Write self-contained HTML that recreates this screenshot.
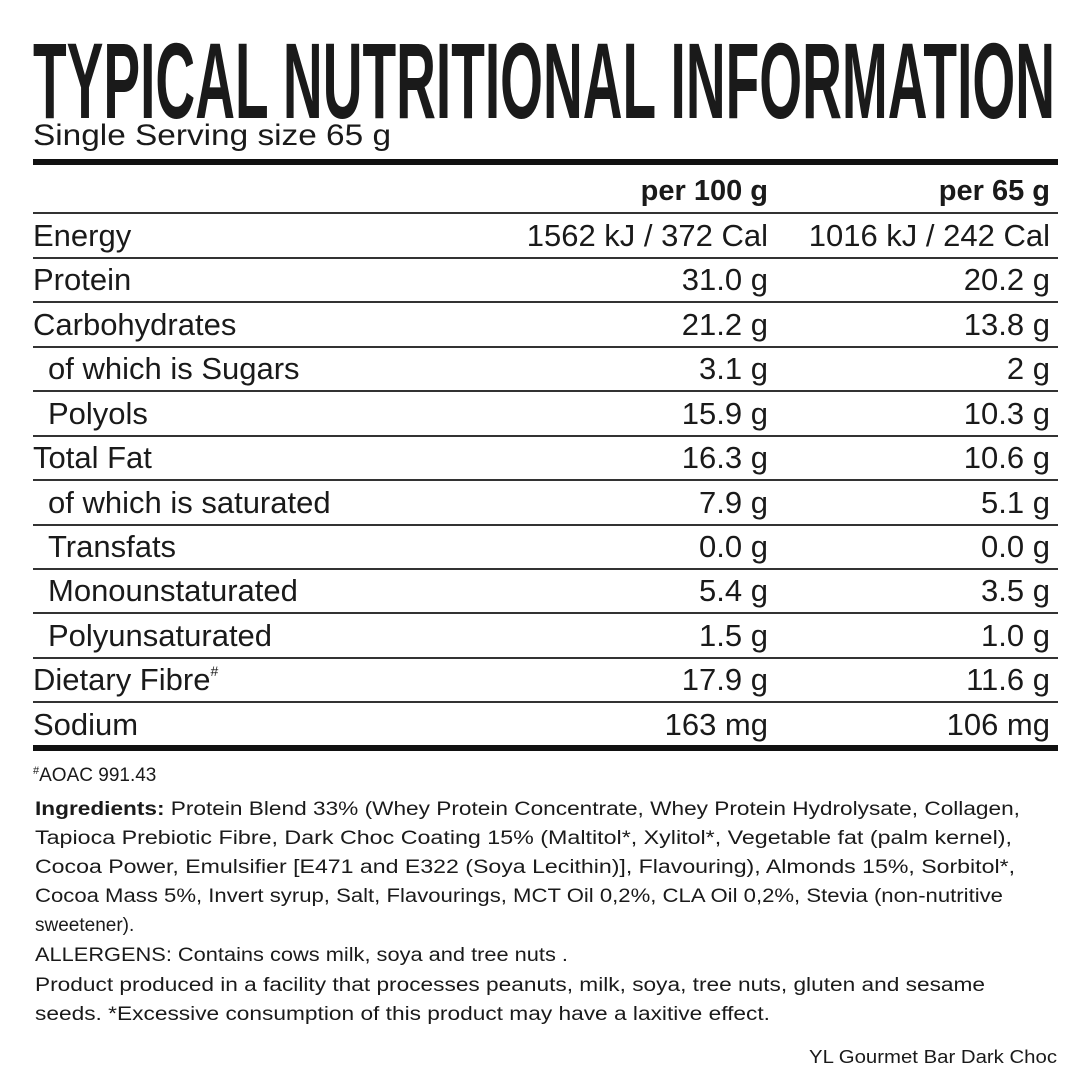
<!DOCTYPE html>
<html><head><meta charset="utf-8"><style>
html,body{margin:0;padding:0;background:#fff;width:1080px;height:1080px;overflow:hidden}
svg text{font-family:"Liberation Sans",sans-serif;fill:#1a1a1a}
</style></head><body>
<svg width="1080" height="1080" viewBox="0 0 1080 1080" xmlns="http://www.w3.org/2000/svg">
<rect width="1080" height="1080" fill="#fff"/>
<text x="33" y="118" font-size="108" font-weight="bold" style="font-family:'Liberation Sans Narrow','Liberation Sans',sans-serif" textLength="1022" lengthAdjust="spacingAndGlyphs">TYPICAL NUTRITIONAL INFORMATION</text>
<text x="33" y="145" font-size="30" textLength="358" lengthAdjust="spacingAndGlyphs">Single Serving size 65 g</text>
<rect x="33" y="159" width="1025" height="6" fill="#111"/>
<text x="768" y="200" font-size="29" font-weight="bold" text-anchor="end">per 100 g</text>
<text x="1050" y="200" font-size="29" font-weight="bold" text-anchor="end">per 65 g</text>
<g fill="#333">
<rect x="33" y="212" width="1025" height="2"/>
<rect x="33" y="257" width="1025" height="2"/>
<rect x="33" y="301" width="1025" height="2"/>
<rect x="33" y="346" width="1025" height="2"/>
<rect x="33" y="390" width="1025" height="2"/>
<rect x="33" y="435" width="1025" height="2"/>
<rect x="33" y="479" width="1025" height="2"/>
<rect x="33" y="524" width="1025" height="2"/>
<rect x="33" y="568" width="1025" height="2"/>
<rect x="33" y="612" width="1025" height="2"/>
<rect x="33" y="657" width="1025" height="2"/>
<rect x="33" y="701" width="1025" height="2"/>
</g>
<rect x="33" y="745" width="1025" height="6" fill="#111"/>
<g font-size="31">
<text x="33" y="246">Energy</text><text x="768" y="246" text-anchor="end">1562 kJ / 372 Cal</text><text x="1050" y="246" text-anchor="end">1016 kJ / 242 Cal</text>
<text x="33" y="290">Protein</text><text x="768" y="290" text-anchor="end">31.0 g</text><text x="1050" y="290" text-anchor="end">20.2 g</text>
<text x="33" y="335">Carbohydrates</text><text x="768" y="335" text-anchor="end">21.2 g</text><text x="1050" y="335" text-anchor="end">13.8 g</text>
<text x="48" y="379">of which is Sugars</text><text x="768" y="379" text-anchor="end">3.1 g</text><text x="1050" y="379" text-anchor="end">2 g</text>
<text x="48" y="424">Polyols</text><text x="768" y="424" text-anchor="end">15.9 g</text><text x="1050" y="424" text-anchor="end">10.3 g</text>
<text x="33" y="468">Total Fat</text><text x="768" y="468" text-anchor="end">16.3 g</text><text x="1050" y="468" text-anchor="end">10.6 g</text>
<text x="48" y="513">of which is saturated</text><text x="768" y="513" text-anchor="end">7.9 g</text><text x="1050" y="513" text-anchor="end">5.1 g</text>
<text x="48" y="557">Transfats</text><text x="768" y="557" text-anchor="end">0.0 g</text><text x="1050" y="557" text-anchor="end">0.0 g</text>
<text x="48" y="601">Monounstaturated</text><text x="768" y="601" text-anchor="end">5.4 g</text><text x="1050" y="601" text-anchor="end">3.5 g</text>
<text x="48" y="646">Polyunsaturated</text><text x="768" y="646" text-anchor="end">1.5 g</text><text x="1050" y="646" text-anchor="end">1.0 g</text>
<text x="33" y="690">Dietary Fibre<tspan font-size="14" dy="-14">#</tspan></text><text x="768" y="690" text-anchor="end">17.9 g</text><text x="1050" y="690" text-anchor="end">11.6 g</text>
<text x="33" y="735">Sodium</text><text x="768" y="735" text-anchor="end">163 mg</text><text x="1050" y="735" text-anchor="end">106 mg</text>
</g>
<g font-size="19">
<text x="33" y="781"><tspan font-size="11" dy="-7">#</tspan><tspan dy="7">AOAC 991.43</tspan></text>
<text x="35" y="815" textLength="985" lengthAdjust="spacingAndGlyphs"><tspan font-weight="bold">Ingredients:</tspan> Protein Blend 33% (Whey Protein Concentrate, Whey Protein Hydrolysate, Collagen,</text>
<text x="35" y="844" textLength="977" lengthAdjust="spacingAndGlyphs">Tapioca Prebiotic Fibre, Dark Choc Coating 15% (Maltitol*, Xylitol*, Vegetable fat (palm kernel),</text>
<text x="35" y="873" textLength="980" lengthAdjust="spacingAndGlyphs">Cocoa Power, Emulsifier [E471 and E322 (Soya Lecithin)], Flavouring), Almonds 15%, Sorbitol*,</text>
<text x="35" y="902" textLength="968" lengthAdjust="spacingAndGlyphs">Cocoa Mass 5%, Invert syrup, Salt, Flavourings, MCT Oil 0,2%, CLA Oil 0,2%, Stevia (non-nutritive</text>
<text x="35" y="931">sweetener).</text>
<text x="35" y="961" textLength="533" lengthAdjust="spacingAndGlyphs">ALLERGENS: Contains cows milk, soya and tree nuts .</text>
<text x="35" y="991" textLength="950" lengthAdjust="spacingAndGlyphs">Product produced in a facility that processes peanuts, milk, soya, tree nuts, gluten and sesame</text>
<text x="35" y="1020" textLength="735" lengthAdjust="spacingAndGlyphs">seeds. *Excessive consumption of this product may have a laxitive effect.</text>
</g>
<text x="809" y="1063" font-size="18" textLength="248" lengthAdjust="spacingAndGlyphs">YL Gourmet Bar Dark Choc</text>
</svg>
</body></html>
